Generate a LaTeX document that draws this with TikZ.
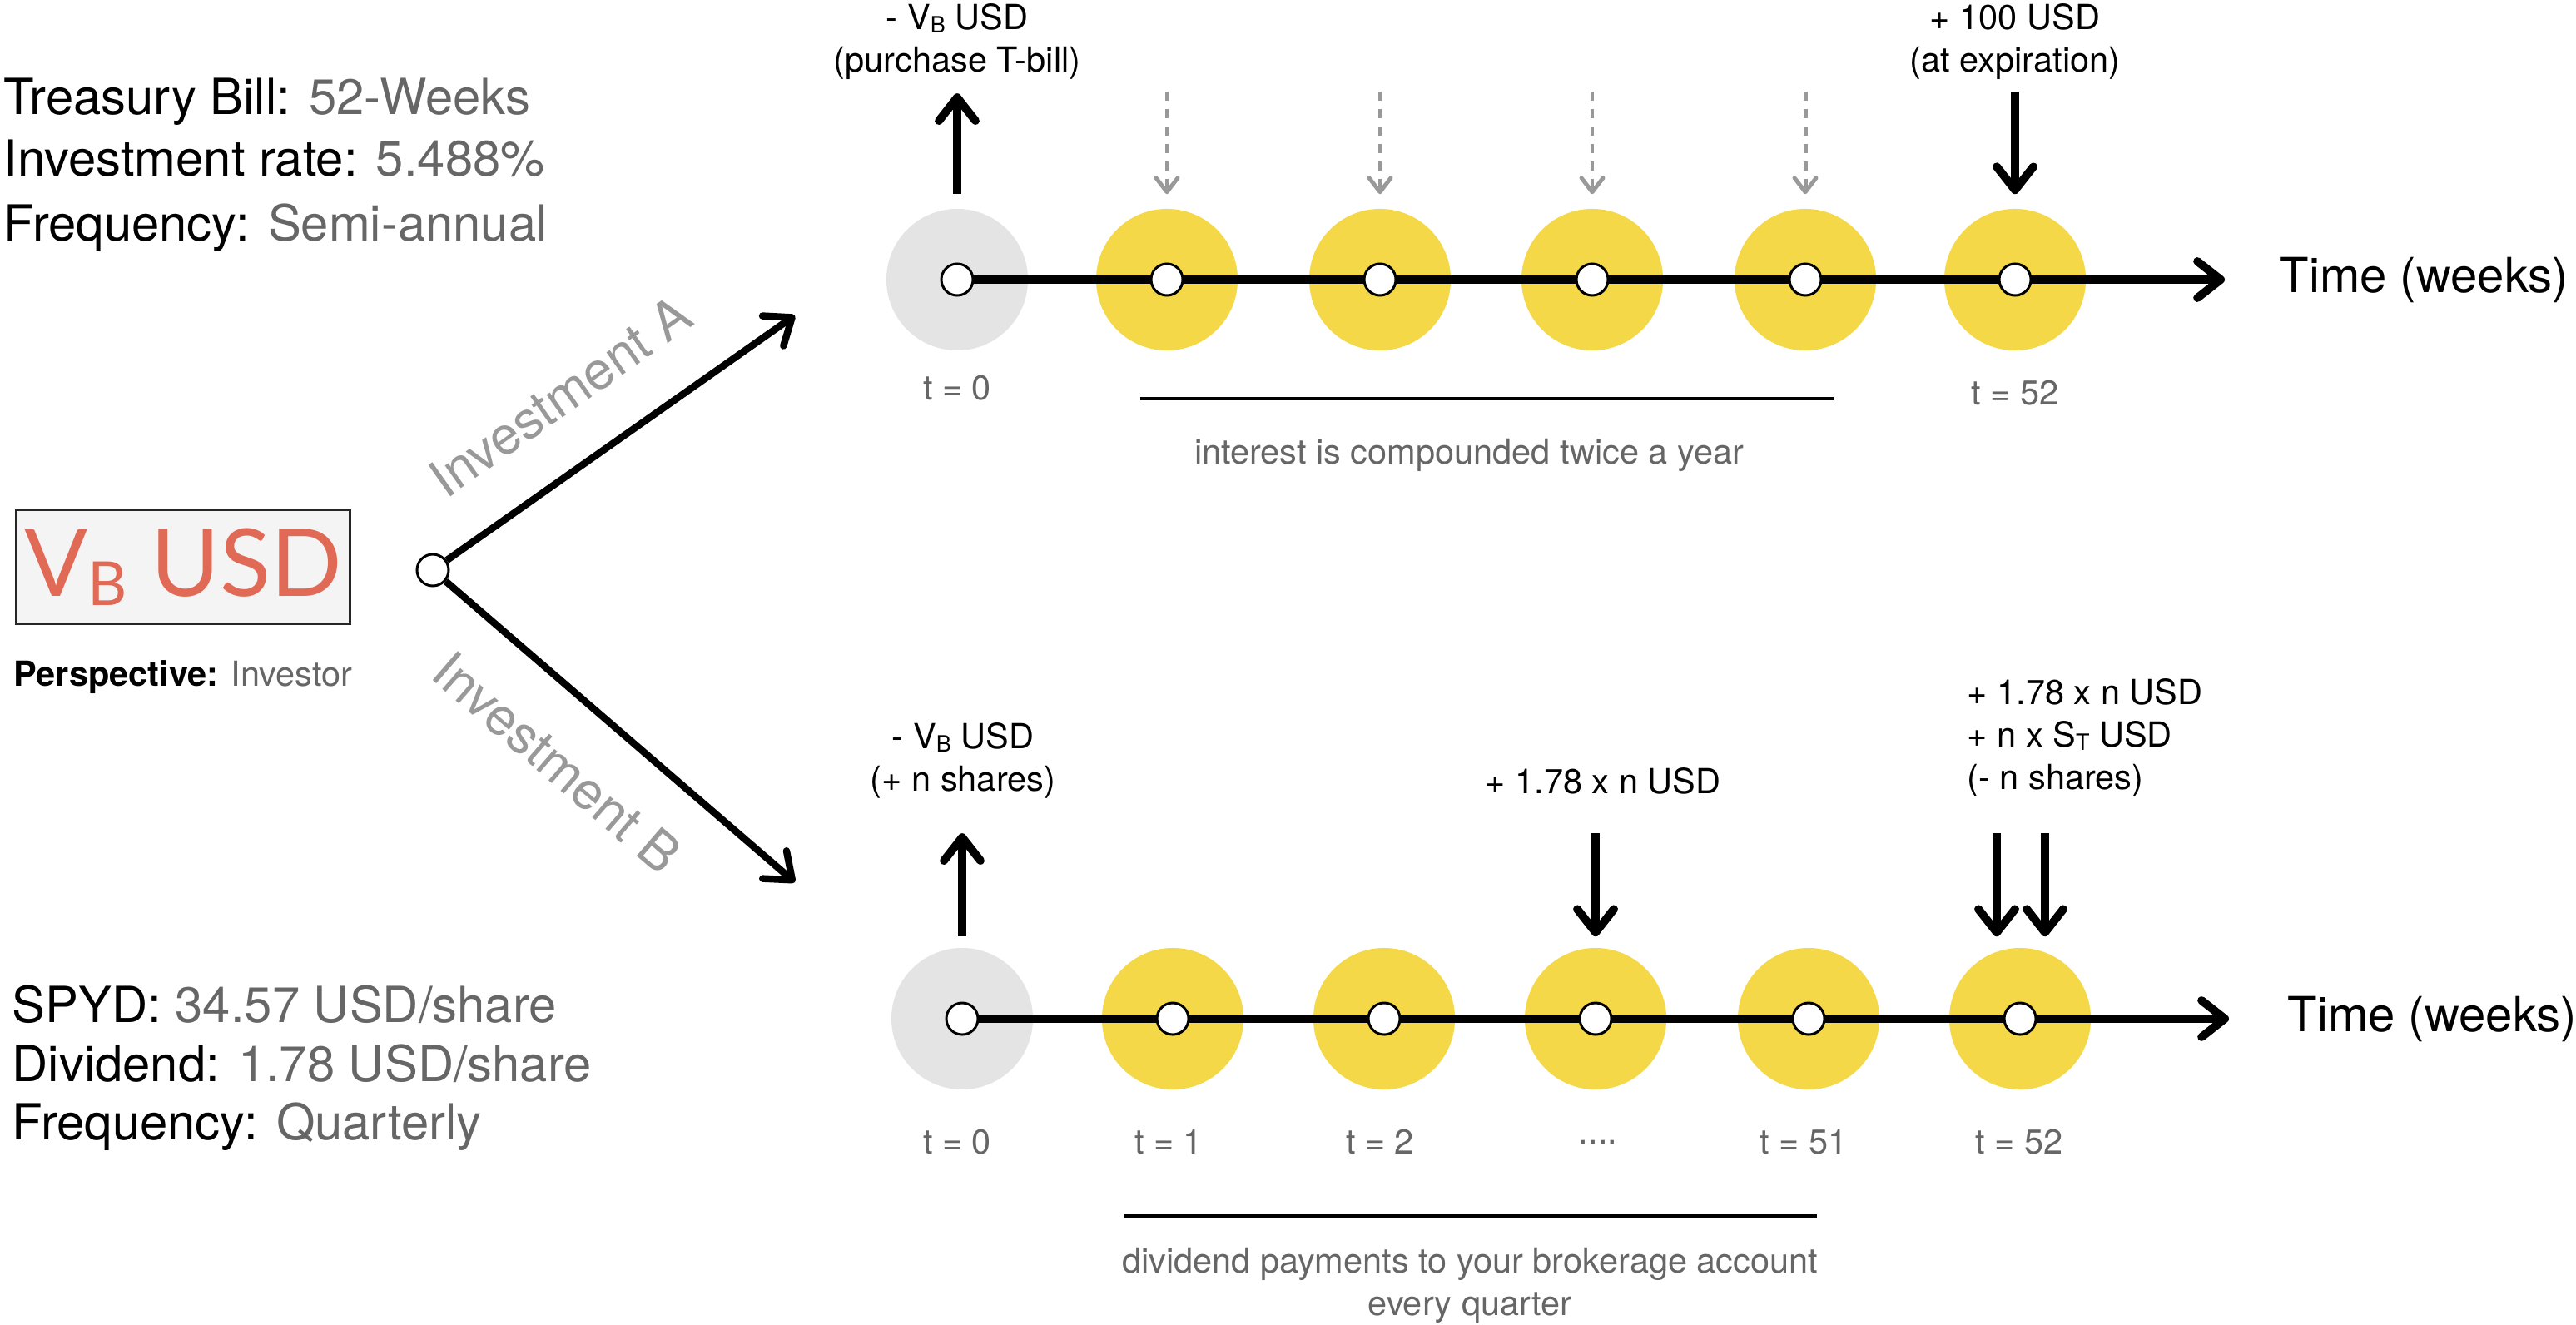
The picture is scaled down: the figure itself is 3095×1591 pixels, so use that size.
\documentclass[tikz,border=0pt]{standalone}
\usepackage{graphicx}
\usepackage{fontspec}
\setmainfont{TeX Gyre Heros}
\newfontfamily\boxfont{Lato}
\usetikzlibrary{arrows.meta,positioning}

\definecolor{discyellow}{HTML}{F4D848}
\definecolor{discgray}{HTML}{E4E4E4}
\definecolor{valgray}{HTML}{666666}
\definecolor{invgray}{HTML}{999999}
\definecolor{boxred}{HTML}{E06A55}
\definecolor{boxfill}{HTML}{F4F4F4}

\newcommand{\lowsub}[1]{\raisebox{-0.2ex}{\scalebox{0.65}{#1}}}

\begin{document}
\begin{tikzpicture}[x=0.01cm,y=-0.01cm,
  disc/.style={circle,inner sep=0pt,minimum size=1.7cm,fill=discyellow},
  dot/.style={circle,draw,line width=0.85pt,fill=white,inner sep=0pt,minimum size=0.38cm},
  bigarrow/.style={line width=2.8pt,-{Straight Barb[round,length=0.28cm,width=0.44cm]}},
  hintarrow/.style={invgray,line width=1.4pt,dash pattern=on 0.11cm off 0.1cm,
    -{Straight Barb[round,length=0.17cm,width=0.26cm]}},
  lbl/.style={inner sep=0pt,font=\fontsize{11.8}{14.5}\selectfont,align=center},
  tlbl/.style={lbl,text=valgray},
  info/.style={inner sep=0pt,anchor=base west,font=\fontsize{17}{20}\selectfont},
  axis/.style={inner sep=0pt,anchor=west,font=\fontsize{16.5}{20}\selectfont},
  inv/.style={inner sep=0pt,sloped,text=invgray,font=\fontsize{18}{20}\selectfont}]
\useasboundingbox (0,0) rectangle (3095,1591);

% left column
\node[info] (tbill) at (4,138) {Treasury Bill: \textcolor{valgray}{52-Weeks}};
\node[info] (trate) at (4,212) {Investment rate: \textcolor{valgray}{5.488\%}};
\node[info] (tfreq) at (4,289) {Frequency: \textcolor{valgray}{Semi-annual}};

\node[draw=black!85,line width=0.85pt,fill=boxfill,minimum width=4cm,minimum height=1.37cm,
  inner sep=0pt,text=boxred,font=\boxfont\fontsize{32}{32}\selectfont] (vb) at (220,681)
  {V\lowsub{B} USD};
\node[lbl,anchor=base] (persp) at (220,824) {\textbf{Perspective:} \textcolor{valgray}{Investor}};

\node[info] (spyd) at (14,1228) {SPYD: \textcolor{valgray}{34.57 USD/share}};
\node[info] (sdiv) at (14,1299) {Dividend: \textcolor{valgray}{1.78 USD/share}};
\node[info] (sfreq) at (14,1369) {Frequency: \textcolor{valgray}{Quarterly}};

% the two branches
\node[dot] (root) at (520,685) {};
\coordinate (ia) at (955,379);
\coordinate (ib) at (955,1060);
\draw[bigarrow,line width=2.4pt] (root) -- node[inv,pos=0.44,above=0.55cm] (labA) {Investment A} (ia);
\draw[bigarrow,line width=2.4pt] (root) -- node[inv,pos=0.44,below=0.5cm] (labB) {Investment B} (ib);

% investment A: treasury bill
\foreach \n/\x/\c in {0/1150/discgray,1/1402/discyellow,2/1658/discyellow,
                      3/1913/discyellow,4/2169/discyellow,5/2421/discyellow}
  \node[disc,fill=\c] (ta\n) at (\x,336) {};
\coordinate (taend) at (2673,336);
\draw[bigarrow] (ta0.center) -- (taend);
\foreach \n in {0,...,5}
  \node[dot] (da\n) at (ta\n) {};
\node[axis] (timea) at (2738,336) {Time (weeks)};

\node[lbl] (outa) at (1150,50) {- V\lowsub{B} USD\\(purchase T-bill)};
\node[lbl] (ina) at (2421,50) {+ 100 USD\\(at expiration)};
\draw[bigarrow] ([yshift=0.17cm]ta0.north) -- ([yshift=1.38cm]ta0.north);
\draw[bigarrow] ([yshift=1.4cm]ta5.north) -- ([yshift=0.17cm]ta5.north);
\foreach \n in {1,...,4}
  \draw[hintarrow] ([yshift=1.4cm]ta\n.north) -- ([yshift=0.17cm]ta\n.north);

\node[tlbl] (t0a) at (1150,466) {t = 0};
\node[tlbl] (t52a) at (2421,472) {t = 52};
\draw[line width=1.1pt] (1370,479) -- (2203,479);
\node[tlbl] (nota) at (1765,547) {interest is compounded twice a year};

% investment B: SPYD shares
\foreach \n/\x/\c in {0/1156/discgray,1/1409/discyellow,2/1663/discyellow,
                      3/1917/discyellow,4/2173/discyellow,5/2427/discyellow}
  \node[disc,fill=\c] (tb\n) at (\x,1224) {};
\coordinate (tbend) at (2678,1224);
\draw[bigarrow] (tb0.center) -- (tbend);
\foreach \n in {0,...,5}
  \node[dot] (db\n) at (tb\n) {};
\node[axis] (timeb) at (2748,1224) {Time (weeks)};

\node[lbl] (outb) at (1157,914) {- V\lowsub{B} USD\\(+ n shares)};
\node[lbl] (divb) at (1926,938) {+ 1.78 x n USD};
\node[lbl,align=left,anchor=west] (endb) at (2363,886) {+ 1.78 x n USD\\+ n x S\lowsub{T} USD\\(- n shares)};
\draw[bigarrow] ([yshift=0.13cm]tb0.north) -- ([yshift=1.37cm]tb0.north);
\draw[bigarrow] ([yshift=1.37cm]tb3.north) -- ([yshift=0.13cm]tb3.north);
\draw[bigarrow] ([xshift=-0.28cm,yshift=1.37cm]tb5.north) -- ([xshift=-0.28cm,yshift=0.13cm]tb5.north);
\draw[bigarrow] ([xshift=0.3cm,yshift=1.37cm]tb5.north) -- ([xshift=0.3cm,yshift=0.13cm]tb5.north);

\foreach \n/\x/\t in {0/1150/{t = 0},1/1404/{t = 1},2/1658/{t = 2},3/1920/{....},4/2167/{t = 51},5/2426/{t = 52}}
  \node[tlbl] (tlb\n) at (\x,1372) {\t};
\draw[line width=1.1pt] (1350,1461) -- (2183,1461);
\node[tlbl] (notb) at (1766,1544) {dividend payments to your brokerage account\\every quarter};

\end{tikzpicture}
\end{document}
